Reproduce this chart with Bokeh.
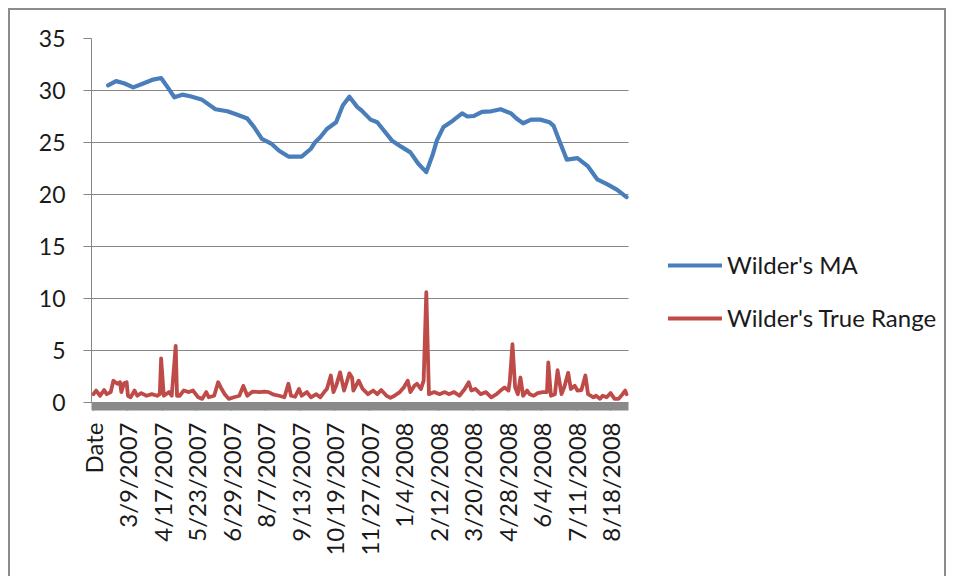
import math
from bokeh.plotting import figure
from bokeh.models import Range1d, FixedTicker, Legend, LegendItem
from bokeh.embed import file_html
from bokeh.resources import INLINE

# x-axis category labels (category index -> label)
tick_pos = [1, 27, 53, 79, 105, 131, 157, 183, 209, 235, 261, 287, 313, 339, 365, 391]
tick_labels = ["Date", "3/9/2007", "4/17/2007", "5/23/2007", "6/29/2007", "8/7/2007",
               "9/13/2007", "10/19/2007", "11/27/2007", "1/4/2008", "2/12/2008",
               "3/20/2008", "4/28/2008", "6/4/2008", "7/11/2008", "8/18/2008"]
n_categories = 405
y_ticks = [0, 5, 10, 15, 20, 25, 30, 35]

# Wilder's MA (category index, value) readings
ma_idx = [12, 18, 24, 31, 39, 46, 52, 57, 62, 68, 74, 83, 93, 102, 109, 117, 122, 128,
          135, 141, 148, 158, 165, 168, 172, 177, 184, 189, 194, 200, 203, 210, 215, 220,
          226, 233, 240, 246, 252, 257, 260, 265, 272, 279, 283, 288, 294, 301, 308, 316,
          320, 325, 331, 338, 345, 348, 351, 358, 366, 374, 381, 389, 396, 403]
ma_val = [30.5, 30.9, 30.7, 30.3, 30.7, 31.05, 31.2, 30.3, 29.35, 29.6, 29.45, 29.1, 28.2,
          28.0, 27.7, 27.3, 26.5, 25.35, 24.9, 24.2, 23.65, 23.65, 24.4, 25.0, 25.5, 26.3,
          26.95, 28.55, 29.4, 28.4, 28.1, 27.2, 26.95, 26.15, 25.2, 24.6, 24.05, 22.95, 22.15,
          23.9, 25.2, 26.5, 27.1, 27.8, 27.5, 27.55, 27.95, 28.0, 28.2, 27.8, 27.3, 26.85,
          27.2, 27.2, 26.95, 26.6, 25.6, 23.35, 23.5, 22.7, 21.45, 20.95, 20.45, 19.75]

# Wilder's True Range (category index, value) readings
tr_idx = [1, 3, 6, 9, 11, 14, 16, 19, 21, 22, 24, 26, 27, 29, 32, 34, 37, 41, 45, 49, 51,
          52, 54, 58, 60, 63, 64, 66, 69, 73, 76, 80, 83, 86, 88, 92, 95, 97, 100, 103, 107,
          111, 114, 117, 121, 126, 130, 133, 137, 141, 145, 148, 150, 153, 156, 158, 162, 165,
          169, 172, 175, 177, 180, 182, 184, 187, 190, 192, 194, 196, 197, 201, 204, 208, 212,
          215, 218, 222, 225, 228, 232, 235, 238, 240, 243, 245, 248, 250, 252, 254, 258, 262,
          266, 269, 273, 277, 281, 284, 286, 289, 293, 297, 301, 305, 308, 311, 314, 315, 317,
          319, 321, 323, 325, 328, 330, 333, 336, 340, 343, 344, 346, 349, 351, 354, 356, 359,
          361, 364, 366, 369, 372, 374, 378, 380, 383, 385, 388, 391, 394, 397, 400, 402, 403]
tr_val = [0.8, 1.15, 0.65, 1.2, 0.8, 1.0, 2.1, 1.8, 1.95, 1.0, 1.85, 1.95, 0.65, 0.5, 1.15,
          0.65, 0.9, 0.65, 0.8, 0.65, 0.8, 4.25, 0.65, 1.0, 0.65, 5.45, 0.65, 0.65, 1.15, 1.0,
          1.15, 0.5, 0.35, 1.0, 0.5, 0.65, 1.95, 1.45, 0.8, 0.35, 0.5, 0.65, 1.6, 0.65, 1.05,
          1.0, 1.05, 1.0, 0.75, 0.65, 0.5, 1.8, 0.65, 0.55, 1.3, 0.65, 1.0, 0.5, 0.8, 0.5, 1.0,
          1.3, 2.6, 1.0, 1.6, 2.9, 1.15, 1.95, 2.8, 2.4, 1.15, 2.1, 1.3, 0.8, 1.15, 0.8, 1.2,
          0.65, 0.45, 0.65, 1.0, 1.45, 2.1, 1.0, 1.6, 1.8, 1.3, 2.1, 10.6, 0.8, 1.0, 0.8, 1.0,
          0.8, 1.0, 0.65, 1.3, 1.95, 1.15, 1.3, 0.8, 1.0, 0.5, 0.8, 1.15, 1.45, 1.15, 2.1, 5.6,
          1.45, 0.8, 2.4, 0.65, 1.15, 0.8, 0.65, 0.9, 1.0, 1.0, 3.85, 0.65, 0.8, 3.1, 0.8, 1.45,
          2.85, 1.3, 1.6, 1.15, 1.2, 2.6, 0.8, 0.5, 0.65, 0.35, 0.65, 0.5, 0.9, 0.35, 0.35,
          0.8, 1.15, 0.8]

FONT = "Lato"
GREY = "#868686"
BLUE = "#4A7EBB"
RED = "#BE4B48"

# plot frame runs to the right edge so the legend can sit inside it;
# the category area keeps the same scale (537 px for n_categories)
x_lo = -0.5
x_cat_hi = n_categories - 0.5
x_hi = x_lo + (n_categories) * 857.0 / 537.0

p = figure(width=938, height=568, output_backend="svg", toolbar_location=None,
           x_range=Range1d(x_lo, x_hi), y_range=Range1d(0, 35),
           min_border_left=81, min_border_right=0, min_border_top=28, min_border_bottom=176)
p.styles = {"margin-left": "8px", "margin-top": "8px",
            "border-left": "2px solid #8c8c8c", "border-top": "2px solid #8c8c8c",
            "border-right": "2px solid #8c8c8c"}
p.outline_line_color = None
p.background_fill_color = "white"
p.border_fill_color = "white"

# horizontal gridlines limited to the category area
p.xgrid.grid_line_color = None
try:
    p.ygrid.cross_bounds = (x_lo, x_cat_hi)
    p.ygrid.grid_line_color = GREY
    p.ygrid.grid_line_width = 1
except AttributeError:
    p.ygrid.grid_line_color = None
    p.segment(x0=[x_lo] * len(y_ticks), y0=y_ticks, x1=[x_cat_hi] * len(y_ticks), y1=y_ticks,
              line_color=GREY, line_width=1)

r_ma = p.line(ma_idx, ma_val, line_color=BLUE, line_width=4.2, line_join="round", line_cap="round")
r_tr = p.line(tr_idx, tr_val, line_color=RED, line_width=3.8, line_join="round", line_cap="round")

# y axis
p.yaxis.ticker = FixedTicker(ticks=y_ticks)
p.yaxis.axis_line_color = GREY
p.yaxis.major_tick_line_color = GREY
p.yaxis.major_tick_out = 8
p.yaxis.major_tick_in = 0
p.yaxis.minor_tick_line_color = None
p.yaxis.major_label_text_font = FONT
p.yaxis.major_label_text_font_size = "23px"
p.yaxis.major_label_text_color = "#1a1a1a"
p.yaxis.major_label_standoff = 18

# x axis (category axis)
p.xaxis.bounds = (x_lo, x_cat_hi)
p.xaxis.ticker = FixedTicker(ticks=tick_pos, minor_ticks=list(range(n_categories)))
p.xaxis.major_label_overrides = {t: l for t, l in zip(tick_pos, tick_labels)}
p.xaxis.major_label_orientation = math.pi / 2
p.xaxis.axis_line_color = GREY
p.xaxis.major_tick_line_color = "#8a8a8a"
p.xaxis.major_tick_line_width = 2
p.xaxis.major_tick_out = 8
p.xaxis.major_tick_in = 0
p.xaxis.minor_tick_line_color = "#8a8a8a"
p.xaxis.minor_tick_line_width = 2
p.xaxis.minor_tick_out = 8
p.xaxis.minor_tick_in = 0
p.xaxis.major_label_text_font = FONT
p.xaxis.major_label_text_font_size = "24px"
p.xaxis.major_label_text_color = "#1a1a1a"
p.xaxis.major_label_standoff = 12

legend = Legend(items=[LegendItem(label="Wilder's MA", renderers=[r_ma]),
                       LegendItem(label="Wilder's True Range", renderers=[r_tr])],
                location=(577, 70), padding=0, margin=0, spacing=24,
                glyph_width=54, glyph_height=24, label_height=24, label_standoff=5,
                border_line_color=None, background_fill_alpha=0,
                label_text_font=FONT, label_text_font_size="24px", label_text_color="#1a1a1a")
p.add_layout(legend, "center")

open("out.html", "w").write(file_html(p, INLINE))
